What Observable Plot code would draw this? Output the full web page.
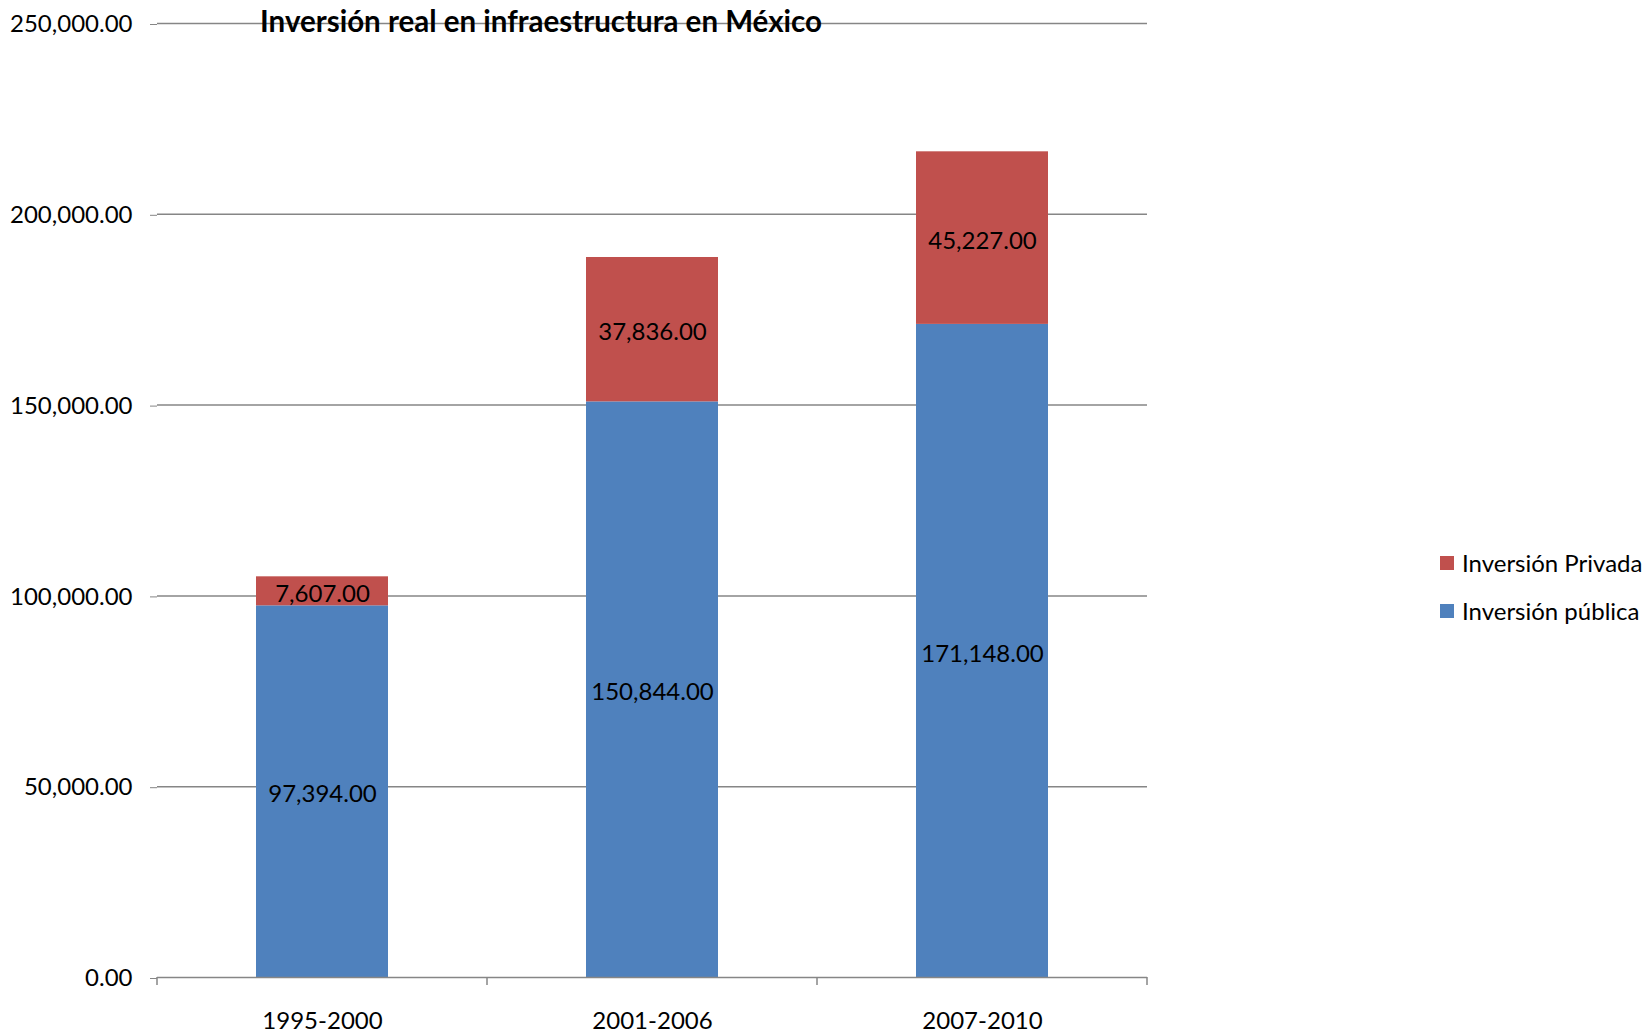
<!DOCTYPE html>
<html>
<head>
<meta charset="utf-8">
<script src="https://cdn.jsdelivr.net/npm/d3@7"></script>
<script src="https://cdn.jsdelivr.net/npm/@observablehq/plot@0.6"></script>
<style>
  html, body { margin: 0; padding: 0; background: #fff; }
  #wrap { position: relative; width: 1649px; height: 1034px; font-family: Lato, "Open Sans", sans-serif; }
  #title { position: absolute; left: 541px; top: 3px; transform: translateX(-50%); font-size: 29.5px; font-weight: bold; white-space: nowrap; color: #000; }
  .leg { position: absolute; left: 1440px; font-size: 24px; white-space: nowrap; color: #000; display: flex; align-items: center; }
  .leg span.sw { display: inline-block; width: 14px; height: 14px; margin-right: 8px; }
</style>
</head>
<body>
<div id="wrap">
  <div id="chart"></div>
  <div id="title">Inversión real en infraestructura en México</div>
  <div class="leg" style="top:548px"><span class="sw" style="background:#C0504D"></span>Inversión Privada</div>
  <div class="leg" style="top:596px"><span class="sw" style="background:#4F81BD"></span>Inversión pública</div>
</div>
<script>
const periods = ["1995-2000", "2001-2006", "2007-2010"];
const publica = [97394, 150844, 171148];
const privada = [7607, 37836, 45227];
const seriesNames = ["Inversión pública", "Inversión Privada"];
const seriesColors = ["#4F81BD", "#C0504D"];
const yTicks = [0, 50000, 100000, 150000, 200000, 250000];

const rows = [];
periods.forEach((p, i) => {
  rows.push({period: p, serie: seriesNames[0], value: publica[i]});
  rows.push({period: p, serie: seriesNames[1], value: privada[i]});
});

const fmt = d3.format(",.2f");

const chart = Plot.plot({
  width: 1649,
  height: 1034,
  marginLeft: 157,
  marginRight: 502,
  marginTop: 23,
  marginBottom: 57,
  style: {fontFamily: "Lato, 'Open Sans', sans-serif", fontSize: "24px", color: "#000", background: "#fff"},
  x: {domain: periods, paddingInner: 0.6, paddingOuter: 0.3, label: null},
  y: {domain: [0, 250000], label: null},
  color: {domain: seriesNames, range: seriesColors},
  marks: [
    Plot.ruleY(yTicks.filter(d => d > 0), {stroke: "#868686", strokeWidth: 1.5}),
    Plot.barY(rows, Plot.stackY({x: "period", y: "value", fill: "serie", order: seriesNames})),
    Plot.text(rows, Plot.stackY({x: "period", y: "value", z: "serie", order: seriesNames, text: d => fmt(d.value), fill: "#000", fontSize: 24, dy: 3})),
    Plot.ruleY([0], {stroke: "#868686", strokeWidth: 1.5}),
    Plot.ruleX([0], {frameAnchor: "left", stroke: "#868686", strokeWidth: 1.5}),
    Plot.axisY({ticks: yTicks, tickFormat: fmt, tickSize: 7, stroke: "#868686", tickPadding: 18, fontSize: 24, dy: 1}),
    Plot.axisX({tickSize: 0, tickPadding: 34, fontSize: 24})
  ]
});
document.getElementById("chart").appendChild(chart);

// category boundary ticks (Excel style) using the x scale
const xs = chart.scale("x");
const svg = d3.select(chart);
const bounds = [];
periods.forEach((p, i) => {
  const start = xs.apply(p) - xs.step * xs.paddingInner / 2;
  bounds.push(start);
  if (i === periods.length - 1) bounds.push(start + xs.step);
});
const y0 = chart.scale("y").apply(0);
svg.append("g").selectAll("line").data(bounds).join("line")
  .attr("x1", d => d).attr("x2", d => d)
  .attr("y1", y0).attr("y2", y0 + 8)
  .attr("stroke", "#868686").attr("stroke-width", 1.5);
</script>
</body>
</html>
